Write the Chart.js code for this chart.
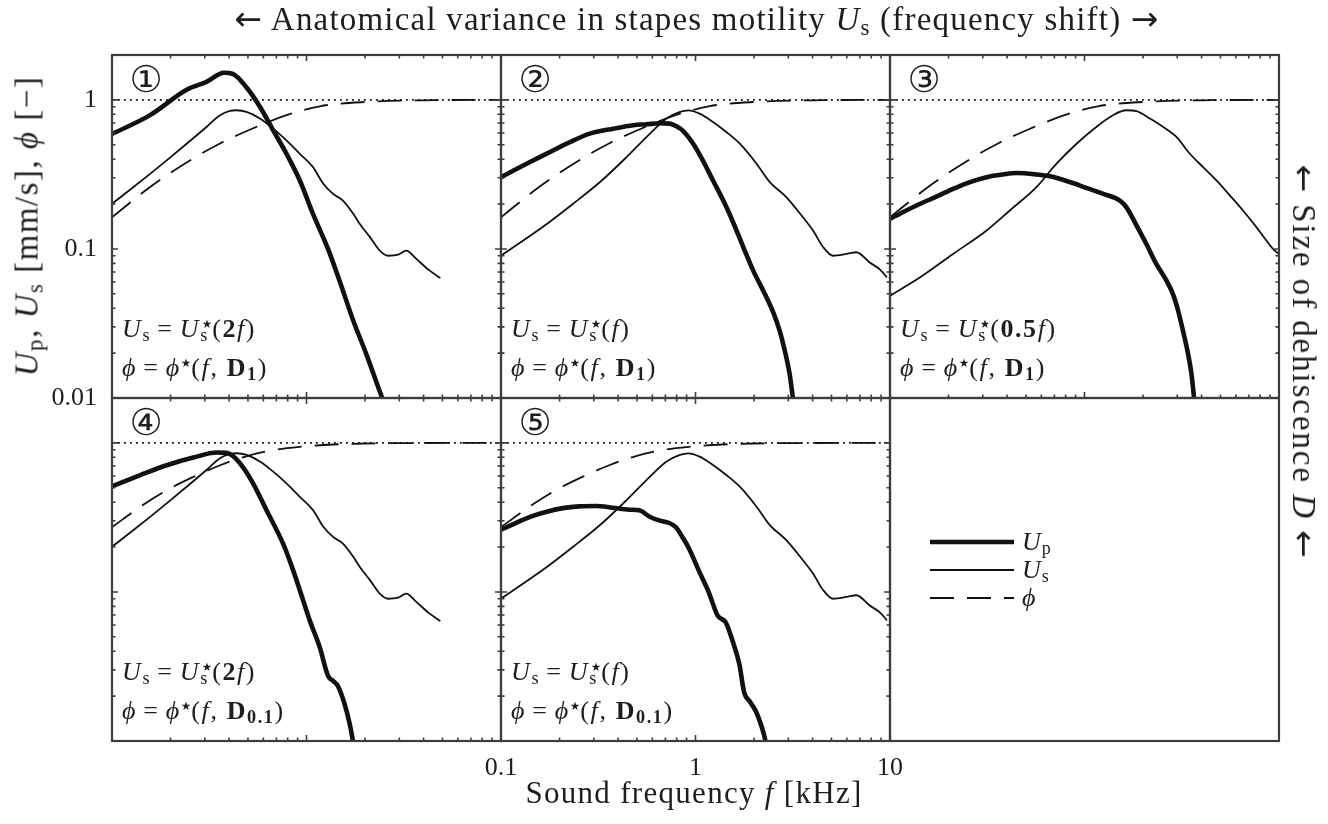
<!DOCTYPE html>
<html>
<head>
<meta charset="utf-8">
<script src="https://cdn.jsdelivr.net/npm/chart.js@4.4.1/dist/chart.umd.min.js"></script>
<style>
  html, body { margin: 0; padding: 0; background: #fff; }
  #fig { position: relative; width: 1328px; height: 824px; overflow: hidden; }
  #fig canvas { position: absolute; left: 0; top: 0; }
  .t { position: absolute; white-space: nowrap; line-height: 1; color: #1e1e1e;
       font-family: "Liberation Serif", "DejaVu Serif", serif; }
  .arr { font-family: "DejaVu Sans", sans-serif; font-weight: normal; }
  .sub { font-size: 0.7em; position: relative; top: 0.2em; font-style: normal; }
  .star { font-size: 0.45em; position: relative; top: -0.8em; font-family: "DejaVu Sans", sans-serif;
          font-style: normal; letter-spacing: 0; }
  .star.on { margin-left: -0.62em; }
  .num { font-family: "DejaVu Sans", sans-serif; font-size: 37px; transform: translate(-50%, -50%); }
  .f { font-size: 26px; letter-spacing: 1.6px; }
  .eq { margin: 0 0.24em; }
</style>
</head>
<body>
<div id="fig">
  <canvas id="p1" width="1328" height="824"></canvas>
  <canvas id="p2" width="1328" height="824"></canvas>
  <canvas id="p3" width="1328" height="824"></canvas>
  <canvas id="p4" width="1328" height="824"></canvas>
  <canvas id="p5" width="1328" height="824"></canvas>
  <canvas id="p6" width="1328" height="824"></canvas>

  <div class="t" style="font-size:33px; letter-spacing:1.2px; left:697px; top:2px; transform:translateX(-50%);"><span class="arr">←</span> Anatomical variance in stapes motility <i>U</i><span class="sub">s</span> (frequency shift) <span class="arr">→</span></div>
  <div class="t" style="font-size:33px; letter-spacing:1.5px; left:27px; top:226px; transform:translate(-50%,-50%) rotate(-90deg);"><i>U</i><span class="sub">p</span>, <i>U</i><span class="sub">s</span> [mm/s], <i>ϕ</i> [−]</div>
  <div class="t" style="font-size:33px; letter-spacing:1.9px; left:1304px; top:362px; transform:translate(-50%,-50%) rotate(90deg);"><span class="arr">←</span> Size of dehiscence <i>D</i> <span class="arr">←</span></div>
  <div class="t" style="font-size:31px; letter-spacing:1.3px; left:694px; top:777px; transform:translateX(-50%);">Sound frequency <i>f</i> [kHz]</div>

  <div class="t num" style="left:146px; top:79px;">①</div>
  <div class="t num" style="left:535px; top:79px;">②</div>
  <div class="t num" style="left:924px; top:79px;">③</div>
  <div class="t num" style="left:146px; top:422px;">④</div>
  <div class="t num" style="left:535px; top:422px;">⑤</div>

  <div class="t f" style="left:122px; top:316px;"><i>U</i><span class="sub">s</span><span class="eq">=</span><i>U</i><span class="sub">s</span><span class="star on">★</span>(<b>2</b><i>f</i>)</div>
  <div class="t f" style="left:122px; top:355px;"><i>ϕ</i><span class="eq">=</span><i>ϕ</i><span class="star">★</span>(<i>f</i>, <b>D</b><span class="sub"><b>1</b></span>)</div>
  <div class="t f" style="left:511px; top:316px;"><i>U</i><span class="sub">s</span><span class="eq">=</span><i>U</i><span class="sub">s</span><span class="star on">★</span>(<i>f</i>)</div>
  <div class="t f" style="left:511px; top:355px;"><i>ϕ</i><span class="eq">=</span><i>ϕ</i><span class="star">★</span>(<i>f</i>, <b>D</b><span class="sub"><b>1</b></span>)</div>
  <div class="t f" style="left:900px; top:316px;"><i>U</i><span class="sub">s</span><span class="eq">=</span><i>U</i><span class="sub">s</span><span class="star on">★</span>(<b>0.5</b><i>f</i>)</div>
  <div class="t f" style="left:900px; top:355px;"><i>ϕ</i><span class="eq">=</span><i>ϕ</i><span class="star">★</span>(<i>f</i>, <b>D</b><span class="sub"><b>1</b></span>)</div>
  <div class="t f" style="left:122px; top:659px;"><i>U</i><span class="sub">s</span><span class="eq">=</span><i>U</i><span class="sub">s</span><span class="star on">★</span>(<b>2</b><i>f</i>)</div>
  <div class="t f" style="left:122px; top:698px;"><i>ϕ</i><span class="eq">=</span><i>ϕ</i><span class="star">★</span>(<i>f</i>, <b>D</b><span class="sub"><b>0.1</b></span>)</div>
  <div class="t f" style="left:511px; top:659px;"><i>U</i><span class="sub">s</span><span class="eq">=</span><i>U</i><span class="sub">s</span><span class="star on">★</span>(<i>f</i>)</div>
  <div class="t f" style="left:511px; top:698px;"><i>ϕ</i><span class="eq">=</span><i>ϕ</i><span class="star">★</span>(<i>f</i>, <b>D</b><span class="sub"><b>0.1</b></span>)</div>
</div>

<script>
// axis ranges and ticks
var freqRange = [0.1, 10];
var valueRange = [0.01, 2];
var freqTicksMajor = [0.1, 1, 10];
var freqTicksMinor = [0.2, 0.3, 0.4, 0.5, 0.6, 0.7, 0.8, 0.9, 2, 3, 4, 5, 6, 7, 8, 9];
var valTicksMajor = [0.01, 0.1, 1];
var valTicksMinor = [0.02, 0.03, 0.04, 0.05, 0.06, 0.07, 0.08, 0.09, 0.2, 0.3, 0.4, 0.5, 0.6, 0.7, 0.8, 0.9, 2];
var freqLabels = [0.1, 1, 10];
var valLabels = [0.01, 0.1, 1];

// [frequency kHz, value]
var unityLine = [[0.1, 1], [10, 1]];

var phiD1 = [[0.1, 0.163], [0.157, 0.26], [0.242, 0.38], [0.359, 0.51], [0.532, 0.645], [0.789, 0.79],
  [1.17, 0.906], [2.03, 0.969], [4.5, 0.995], [10, 1.0]];
var phiD01 = [[0.1, 0.272], [0.139, 0.371], [0.191, 0.481], [0.262, 0.591], [0.36, 0.708], [0.49, 0.813],
  [0.67, 0.893], [0.92, 0.94], [1.37, 0.975], [2.0, 0.99], [4.0, 0.998], [10, 1.0]];

// Us = Us*(2f)  (panels 1 and 4)
var usTwoF = [[0.1, 0.201], [0.129, 0.26], [0.157, 0.319], [0.191, 0.393], [0.242, 0.508], [0.306, 0.658],
  [0.359, 0.789], [0.404, 0.843], [0.437, 0.852], [0.492, 0.83], [0.576, 0.749], [0.674, 0.641],
  [0.789, 0.535], [0.924, 0.435], [1.08, 0.354], [1.22, 0.274], [1.37, 0.234], [1.54, 0.211],
  [1.74, 0.172], [1.88, 0.147], [2.12, 0.12], [2.38, 0.0974], [2.63, 0.09], [2.96, 0.0915],
  [3.26, 0.0974], [3.67, 0.0857], [4.3, 0.0715], [4.88, 0.0638]];
// Us = Us*(f)  (panels 2 and 5)
var usF = [[0.1, 0.09], [0.172, 0.147], [0.235, 0.201], [0.323, 0.281], [0.443, 0.414], [0.607, 0.625],
  [0.71, 0.749], [0.832, 0.83], [0.917, 0.851], [1.05, 0.809], [1.23, 0.711], [1.44, 0.609],
  [1.69, 0.508], [2.06, 0.373], [2.41, 0.281], [2.93, 0.223], [3.57, 0.163], [4.02, 0.133],
  [4.53, 0.103], [5.1, 0.09], [5.97, 0.0925], [6.72, 0.095], [7.87, 0.081], [8.86, 0.073], [9.65, 0.0645]];
// Us = Us*(0.5f)  (panel 3)
var usHalfF = [[0.1, 0.0485], [0.143, 0.0645], [0.211, 0.0925], [0.314, 0.133], [0.413, 0.181], [0.566, 0.26],
  [0.718, 0.373], [0.91, 0.508], [1.15, 0.658], [1.4, 0.789], [1.64, 0.852], [1.85, 0.84], [2.17, 0.749],
  [2.54, 0.658], [2.97, 0.564], [3.48, 0.435], [4.07, 0.354], [4.77, 0.288], [5.58, 0.229], [6.53, 0.181],
  [7.65, 0.14], [8.61, 0.114], [9.31, 0.1], [10, 0.0925]];

var upP1 = [[0.1, 0.59], [0.157, 0.79], [0.242, 1.17], [0.306, 1.32], [0.376, 1.52], [0.42, 1.49],
  [0.492, 1.21], [0.576, 0.9], [0.674, 0.625], [0.789, 0.435], [0.924, 0.288], [1.08, 0.172],
  [1.29, 0.1], [1.48, 0.061], [1.74, 0.033], [2.03, 0.0197], [2.45, 0.01], [2.6, 0.0082]];
var upP2 = [[0.1, 0.303], [0.116, 0.336], [0.141, 0.383], [0.172, 0.436], [0.226, 0.521], [0.286, 0.594],
  [0.378, 0.641], [0.479, 0.676], [0.56, 0.686], [0.656, 0.697], [0.738, 0.693], [0.798, 0.665],
  [0.865, 0.618], [0.973, 0.508], [1.09, 0.393], [1.23, 0.288], [1.39, 0.211], [1.56, 0.151],
  [1.76, 0.103], [1.98, 0.0715], [2.23, 0.0525], [2.51, 0.0375], [2.71, 0.0282], [2.88, 0.0207],
  [3.05, 0.0144], [3.17, 0.01], [3.3, 0.0075]];
var upP3 = [[0.1, 0.159], [0.117, 0.177], [0.143, 0.201], [0.174, 0.225], [0.211, 0.253], [0.258, 0.281],
  [0.314, 0.303], [0.382, 0.316], [0.448, 0.323], [0.566, 0.316], [0.664, 0.307], [0.841, 0.281],
  [1.02, 0.257], [1.25, 0.234], [1.52, 0.211], [1.64, 0.191], [1.85, 0.144], [2.08, 0.108],
  [2.34, 0.0793], [2.64, 0.0613], [2.85, 0.0498], [3.03, 0.0385], [3.21, 0.0282], [3.41, 0.0197],
  [3.55, 0.0144], [3.66, 0.01], [3.75, 0.0075]];
var upP4 = [[0.1, 0.511], [0.139, 0.606], [0.191, 0.708], [0.262, 0.797], [0.345, 0.861], [0.388, 0.857],
  [0.42, 0.813], [0.473, 0.683], [0.532, 0.533], [0.624, 0.352], [0.759, 0.21], [0.855, 0.139],
  [0.962, 0.0874], [1.04, 0.0642], [1.17, 0.0425], [1.29, 0.0274], [1.37, 0.0253], [1.45, 0.0234],
  [1.57, 0.0177], [1.67, 0.0129], [1.74, 0.0097], [1.8, 0.0075]];
var upP5 = [[0.1, 0.261], [0.115, 0.284], [0.14, 0.318], [0.17, 0.344], [0.208, 0.365], [0.253, 0.375],
  [0.308, 0.377], [0.375, 0.367], [0.456, 0.356], [0.514, 0.353], [0.578, 0.321], [0.65, 0.302],
  [0.733, 0.29], [0.792, 0.272], [0.857, 0.233], [0.927, 0.195], [1.04, 0.139], [1.17, 0.0995],
  [1.3, 0.0693], [1.43, 0.0625], [1.55, 0.0471], [1.68, 0.0328], [1.78, 0.0211], [1.89, 0.0186],
  [2.04, 0.0159], [2.17, 0.0129], [2.3, 0.0097], [2.36, 0.0075]];

// line styles
var lineStyles = {
  up: { borderWidth: 4.6, borderDash: [] },
  us: { borderWidth: 1.8, borderDash: [] },
  phi: { borderWidth: 1.8, borderDash: [24, 13] },
  unity: { borderWidth: 1.8, borderDash: [1.8, 4.2] }
};

var colEdges = [112, 501, 890, 1279];
var rowEdges = [55, 398, 741];
var yAxisWidth = 80;
var xAxisHeight = 40;

var panels = [
  { id: 'p1', col: 0, row: 0, up: upP1, us: usTwoF, phi: phiD1, yLabels: true },
  { id: 'p2', col: 1, row: 0, up: upP2, us: usF, phi: phiD1 },
  { id: 'p3', col: 2, row: 0, up: upP3, us: usHalfF, phi: phiD1 },
  { id: 'p4', col: 0, row: 1, up: upP4, us: usTwoF, phi: phiD01 },
  { id: 'p5', col: 1, row: 1, up: upP5, us: usF, phi: phiD01, xLabels: true }
];

var legendRows = [
  { key: 'up', name: 'U', sub: 'p' },
  { key: 'us', name: 'U', sub: 's' },
  { key: 'phi', name: 'ϕ', sub: '' }
];

function toXY(arr) {
  return arr.map(function(p) { return { x: p[0], y: p[1] }; });
}

function ds(arr, key) {
  var s = lineStyles[key];
  return {
    data: toXY(arr),
    borderColor: '#111',
    borderWidth: s.borderWidth,
    borderDash: s.borderDash,
    pointRadius: 0,
    fill: false,
    cubicInterpolationMode: 'monotone',
    clip: 0
  };
}

// box with inward ticks on all four sides
var frame = {
  id: 'frame',
  afterDatasetsDraw: function(chart, args, opts) {
    var ctx = chart.ctx, a = chart.chartArea;
    ctx.save();
    ctx.strokeStyle = '#3d3d3d';
    if (opts.ticks) {
      var sx = chart.scales.x, sy = chart.scales.y;
      ctx.lineWidth = 1.6;
      ctx.beginPath();
      function xt(vals, len) {
        vals.forEach(function(v) {
          var p = sx.getPixelForValue(v);
          ctx.moveTo(p, a.top); ctx.lineTo(p, a.top + len);
          ctx.moveTo(p, a.bottom); ctx.lineTo(p, a.bottom - len);
        });
      }
      function yt(vals, len) {
        vals.forEach(function(v) {
          var p = sy.getPixelForValue(v);
          ctx.moveTo(a.left, p); ctx.lineTo(a.left + len, p);
          ctx.moveTo(a.right, p); ctx.lineTo(a.right - len, p);
        });
      }
      xt(freqTicksMajor, 6); xt(freqTicksMinor, 3.5);
      yt(valTicksMajor, 6); yt(valTicksMinor, 3.5);
      ctx.stroke();
    }
    ctx.lineWidth = 2.2;
    ctx.strokeRect(a.left, a.top, a.right - a.left, a.bottom - a.top);
    ctx.restore();
  }
};

// legend inside the empty sixth panel
var lineLegend = {
  id: 'lineLegend',
  afterDraw: function(chart, args, opts) {
    if (!opts.show) return;
    var ctx = chart.ctx, a = chart.chartArea;
    ctx.save();
    legendRows.forEach(function(r, i) {
      var s = lineStyles[r.key];
      var y = a.top + 144 + i * 28;
      ctx.strokeStyle = '#111';
      ctx.lineWidth = s.borderWidth;
      ctx.setLineDash(s.borderDash);
      ctx.beginPath();
      ctx.moveTo(a.left + 40, y);
      ctx.lineTo(a.left + 124, y);
      ctx.stroke();
      ctx.setLineDash([]);
      ctx.fillStyle = '#1e1e1e';
      ctx.textBaseline = 'alphabetic';
      ctx.font = 'italic 26px "Liberation Serif"';
      ctx.fillText(r.name, a.left + 132, y + 8);
      var w = ctx.measureText(r.name).width;
      ctx.font = '18px "Liberation Serif"';
      ctx.fillText(r.sub, a.left + 132 + w + 1, y + 12);
    });
    ctx.restore();
  }
};

function axis(range, labels, show, pos, pad) {
  return {
    type: 'logarithmic',
    position: pos,
    min: range[0],
    max: range[1],
    display: show,
    grid: { display: false, drawTicks: false },
    border: { display: false },
    ticks: {
      font: { family: 'Liberation Serif', size: 26 },
      color: '#1e1e1e',
      padding: pad,
      maxRotation: 0,
      autoSkip: false,
      callback: function(v) { return String(v); }
    },
    afterBuildTicks: function(s) { s.ticks = labels.map(function(v) { return { value: v }; }); },
    afterFit: function(s) {
      if (pos === 'left') s.width = show ? yAxisWidth : 0;
      else s.height = show ? xAxisHeight : 0;
    }
  };
}

function padFor(col, row, withY, withX) {
  return {
    left: colEdges[col] - (withY ? yAxisWidth : 0),
    right: 1328 - colEdges[col + 1],
    top: rowEdges[row],
    bottom: 824 - rowEdges[row + 1] - (withX ? xAxisHeight : 0)
  };
}

panels.forEach(function(p) {
  new Chart(document.getElementById(p.id), {
    type: 'line',
    data: {
      datasets: [ds(unityLine, 'unity'), ds(p.phi, 'phi'), ds(p.us, 'us'), ds(p.up, 'up')]
    },
    options: {
      responsive: false,
      animation: false,
      events: [],
      layout: { padding: padFor(p.col, p.row, !!p.yLabels, !!p.xLabels) },
      scales: {
        x: axis(freqRange, freqLabels, !!p.xLabels, 'bottom', 12),
        y: axis(valueRange, valLabels, !!p.yLabels, 'left', 15)
      },
      plugins: {
        legend: { display: false },
        tooltip: { enabled: false },
        frame: { ticks: true }
      }
    },
    plugins: [frame]
  });
});

// sixth panel: empty box holding the legend
new Chart(document.getElementById('p6'), {
  type: 'line',
  data: { datasets: [] },
  options: {
    responsive: false,
    animation: false,
    events: [],
    layout: { padding: padFor(2, 1, false, false) },
    scales: {
      x: axis(freqRange, freqLabels, false, 'bottom', 0),
      y: axis(valueRange, valLabels, false, 'left', 0)
    },
    plugins: {
      legend: { display: false },
      tooltip: { enabled: false },
      frame: { ticks: false },
      lineLegend: { show: true }
    }
  },
  plugins: [frame, lineLegend]
});
</script>
</body>
</html>
